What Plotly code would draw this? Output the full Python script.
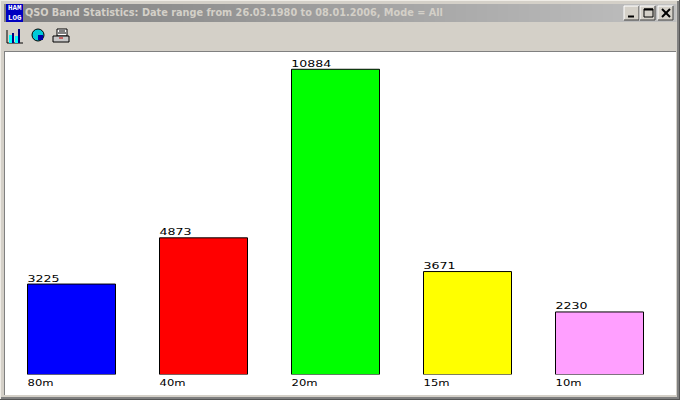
import plotly.graph_objects as go

bands = ["80m", "40m", "20m", "15m", "10m"]
counts = [3225, 4873, 10884, 3671, 2230]
colors = ["#0000ff", "#ff0000", "#00ff00", "#ffff00", "#ff9fff"]
title = "QSO Band Statistics: Date range from 26.03.1980 to 08.01.2006, Mode = All"

W, H = 680, 400
FACE = "#d4d0c8"
LABEL_FONT = dict(family="DejaVu Sans", size=9, color="#000000")


def X(px):
    return px / W


def Y(px):
    return 1 - px / H


shapes = []


def rect(x0, y0, x1, y1, fill, line=None, lw=1, layer="below"):
    shapes.append(dict(type="rect", xref="paper", yref="paper", x0=X(x0), x1=X(x1), y0=Y(y0), y1=Y(y1),
                       fillcolor=fill, layer=layer,
                       line=dict(color=line, width=lw) if line else dict(width=0)))


def seg(x0, y0, x1, y1, color, lw=1, layer="above"):
    shapes.append(dict(type="line", xref="paper", yref="paper", x0=X(x0), x1=X(x1), y0=Y(y0), y1=Y(y1),
                       line=dict(color=color, width=lw), layer=layer))


# window frame
rect(0, 0, 680, 400, FACE)
rect(0, 0, 680, 1, "#efece6")
rect(0, 0, 1, 400, "#efece6")
rect(679, 0, 680, 400, "#555555")
rect(677, 1, 679, 399, "#808080")
rect(0, 399, 680, 400, "#555555")
rect(1, 397, 679, 399, "#808080")
# title bar gradient
steps = 64
x_a, x_b = 4, 676
for i in range(steps):
    t = i / (steps - 1)
    g = int(128 + (192 - 128) * t)
    rect(x_a + (x_b - x_a) * i / steps, 4, x_a + (x_b - x_a) * (i + 1) / steps + 0.5, 22, f"rgb({g},{g},{g})")
# client area
rect(4, 51, 676, 396, "#ffffff")
rect(4, 51, 676, 52, "#808080")
rect(4, 51, 5, 396, "#808080")
rect(4, 395, 676, 396, FACE)

# app icon
rect(6, 4, 23, 22, "#0000c0")
# chart toolbar icon
seg(7, 43, 23, 43, "#000000")
seg(7, 30, 7, 43, "#000000")
rect(9, 35, 12, 43, "#00ffff", layer="above")
rect(12, 33, 14, 43, "#000080", layer="above")
rect(15, 36, 18, 43, "#00ffff", layer="above")
rect(18, 29, 20, 43, "#000080", layer="above")
# pie toolbar icon
shapes.append(dict(type="circle", xref="paper", yref="paper", x0=X(32), x1=X(44), y0=Y(41), y1=Y(29),
                   fillcolor="#00c8d8", line=dict(color="#000000", width=1)))
rect(38, 35, 43, 40, "#0000a8", layer="above")
# printer toolbar icon
rect(57, 29, 67, 36, "#ffffff", "#000000", layer="above")
rect(53, 36, 69, 42, "#c8c8c8", "#000000", layer="above")
seg(59, 31, 65, 31, "#000000")
seg(58, 33, 66, 33, "#000000")
seg(59, 38, 63, 38, "#c00000")

# caption buttons
for bx in (624, 640, 658):
    rect(bx, 6, bx + 15, 20, FACE, layer="above")
    seg(bx, 6, bx + 15, 6, "#ffffff")
    seg(bx, 6, bx, 20, "#ffffff")
    seg(bx, 20, bx + 15, 20, "#404040")
    seg(bx + 15, 6, bx + 15, 20, "#404040")
seg(628, 16.5, 634, 16.5, "#000000", 2)
rect(644, 9, 653, 17, "rgba(0,0,0,0)", "#000000", layer="above")
seg(644, 9.5, 653, 9.5, "#000000", 2)
seg(662, 9, 670, 17, "#000000", 2)
seg(670, 9, 662, 17, "#000000", 2)

fig = go.Figure(
    go.Bar(
        x=bands,
        y=counts,
        marker=dict(color=colors, line=dict(color="#000000", width=1)),
        hoverinfo="x+y",
    )
)

annotations = [
    dict(
        x=band, y=value, xref="x", yref="y", text=str(value), showarrow=False,
        xanchor="left", yanchor="bottom", xshift=-46 + 1.14 * len(str(value)), yshift=-1.5, font=LABEL_FONT,
    )
    for band, value in zip(bands, counts)
]
annotations.append(dict(
    x=X(234), y=Y(13), xref="paper", yref="paper", text=f"<b>{title}</b>", showarrow=False,
    xanchor="center", yanchor="middle", font=dict(family="DejaVu Sans", size=10.2, color="#d4d0c8"),
))
annotations.append(dict(
    x=X(14.5), y=Y(13), xref="paper", yref="paper", text="<b>HAM<br>LOG</b>", showarrow=False,
    xanchor="center", yanchor="middle", font=dict(family="Liberation Mono", size=7.5, color="#ffffff"),
))

fig.update_layout(
    width=W,
    height=H,
    margin=dict(l=0, r=0, t=0, b=0),
    paper_bgcolor=FACE,
    plot_bgcolor="rgba(0,0,0,0)",
    showlegend=False,
    bargap=1 / 3,
    shapes=shapes,
    annotations=annotations,
    xaxis=dict(
        domain=[X(5.5), X(665.5)],
        anchor="y",
        type="category",
        range=[-0.5, 4.5],
        showgrid=False,
        zeroline=False,
        showline=False,
        ticks="",
        ticklabelshift=-31,
        ticklabelstandoff=1,
        tickfont=LABEL_FONT,
    ),
    yaxis=dict(
        domain=[Y(374.5), Y(52)],
        range=[0, 11500],
        visible=False,
        showgrid=False,
        zeroline=False,
    ),
)

js = """
document.body.style.margin='0';
document.body.style.overflow='hidden';
function fit(t,w){t.setAttribute('textLength',w);t.setAttribute('lengthAdjust','spacingAndGlyphs');}
document.querySelectorAll('.xtick text').forEach(function(t){fit(t,26);});
document.querySelectorAll('.annotation-text').forEach(function(t){
  var s=t.textContent;
  if(/^[0-9]+$/.test(s)){fit(t,8*s.length);}
  else if(s.indexOf('QSO')===0){fit(t,418);}
});
"""
fig.write_html("out.html", post_script=js, config={"displayModeBar": False})
